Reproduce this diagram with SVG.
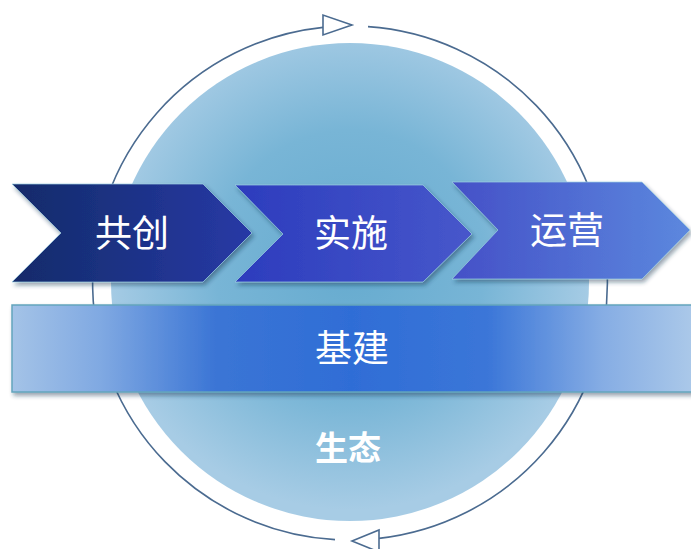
<svg xmlns="http://www.w3.org/2000/svg" width="691" height="549" viewBox="0 0 691 549">
  <defs>
    <radialGradient id="gCircle" cx="350" cy="265" r="245" gradientUnits="userSpaceOnUse">
      <stop offset="0" stop-color="#66abcf"/>
      <stop offset="0.55" stop-color="#78b5d6"/>
      <stop offset="1" stop-color="#a7cce5"/>
    </radialGradient>
    <linearGradient id="gC1" x1="0" y1="0" x2="1" y2="0">
      <stop offset="0" stop-color="#122b69"/>
      <stop offset="1" stop-color="#2839a6"/>
    </linearGradient>
    <linearGradient id="gC2" x1="0" y1="0" x2="1" y2="0">
      <stop offset="0" stop-color="#2c3cbd"/>
      <stop offset="1" stop-color="#4757cb"/>
    </linearGradient>
    <linearGradient id="gC3" x1="0" y1="0" x2="1" y2="0">
      <stop offset="0" stop-color="#4450c7"/>
      <stop offset="1" stop-color="#5c88de"/>
    </linearGradient>
    <linearGradient id="gBar" x1="12" y1="0" x2="691" y2="0" gradientUnits="userSpaceOnUse">
      <stop offset="0" stop-color="#a4c3e7"/>
      <stop offset="0.13" stop-color="#80a9e2"/>
      <stop offset="0.3" stop-color="#3b75d5"/>
      <stop offset="0.5" stop-color="#2f6dd6"/>
      <stop offset="0.7" stop-color="#3b76d8"/>
      <stop offset="0.87" stop-color="#86ade4"/>
      <stop offset="1" stop-color="#aac8e9"/>
    </linearGradient>
    <filter id="shadow" x="-10%" y="-20%" width="120%" height="150%">
      <feDropShadow dx="2" dy="3" stdDeviation="2" flood-color="#1a3550" flood-opacity="0.45"/>
    </filter>
  </defs>
  <style>
    .ring { fill: none; stroke: #4b6b90; stroke-width: 1.6; }
    .head { fill: #ffffff; stroke: #4b6b90; stroke-width: 1.6; stroke-linejoin: miter; }
    .chev { stroke: #9ccfe2; stroke-width: 1; stroke-opacity: 0.7; filter: url(#shadow); }
    .lbl { font-family: "Noto Sans CJK SC", "Noto Sans", sans-serif; font-size: 37px; fill: #ffffff; text-anchor: middle; }
    .lblb { font-family: "Noto Sans CJK SC", "Noto Sans", sans-serif; font-size: 33px; font-weight: bold; fill: #ffffff; text-anchor: middle; }
  </style>

  <g id="ecosystem">
    <circle cx="350" cy="282" r="239" fill="url(#gCircle)"/>
    <text class="lblb" x="348" y="460">生态</text>
  </g>

  <g id="connectors">
    <path class="ring" d="M 368 26.6 A 257 257 0 0 1 379 538.4"/>
    <path class="ring" d="M 335 539.6 A 257 257 0 0 1 323 27.4"/>
    <polygon class="head" points="323,15 323,35 352,25"/>
    <polygon class="head" points="379,530 379,552 352,541"/>
  </g>

  <g id="node-gongchuang">
    <polygon class="chev" fill="url(#gC1)" points="12,184 203,184 252,233 203,282 12,282 61,233"/>
    <text class="lbl" x="132" y="247">共创</text>
  </g>

  <g id="node-shishi">
    <polygon class="chev" fill="url(#gC2)" points="235,185 423,185 472,234 423,282 235,282 283,234"/>
    <text class="lbl" x="351" y="247">实施</text>
  </g>

  <g id="node-yunying">
    <polygon class="chev" fill="url(#gC3)" points="452,182 642,182 690,230 642,279 452,279 498,230"/>
    <text class="lbl" x="567" y="244">运营</text>
  </g>

  <g id="node-jijian">
    <rect x="12" y="305" width="690" height="87" fill="url(#gBar)" stroke="#63a5bd" stroke-width="1.5" filter="url(#shadow)"/>
    <text class="lbl" x="352" y="362">基建</text>
  </g>
</svg>
